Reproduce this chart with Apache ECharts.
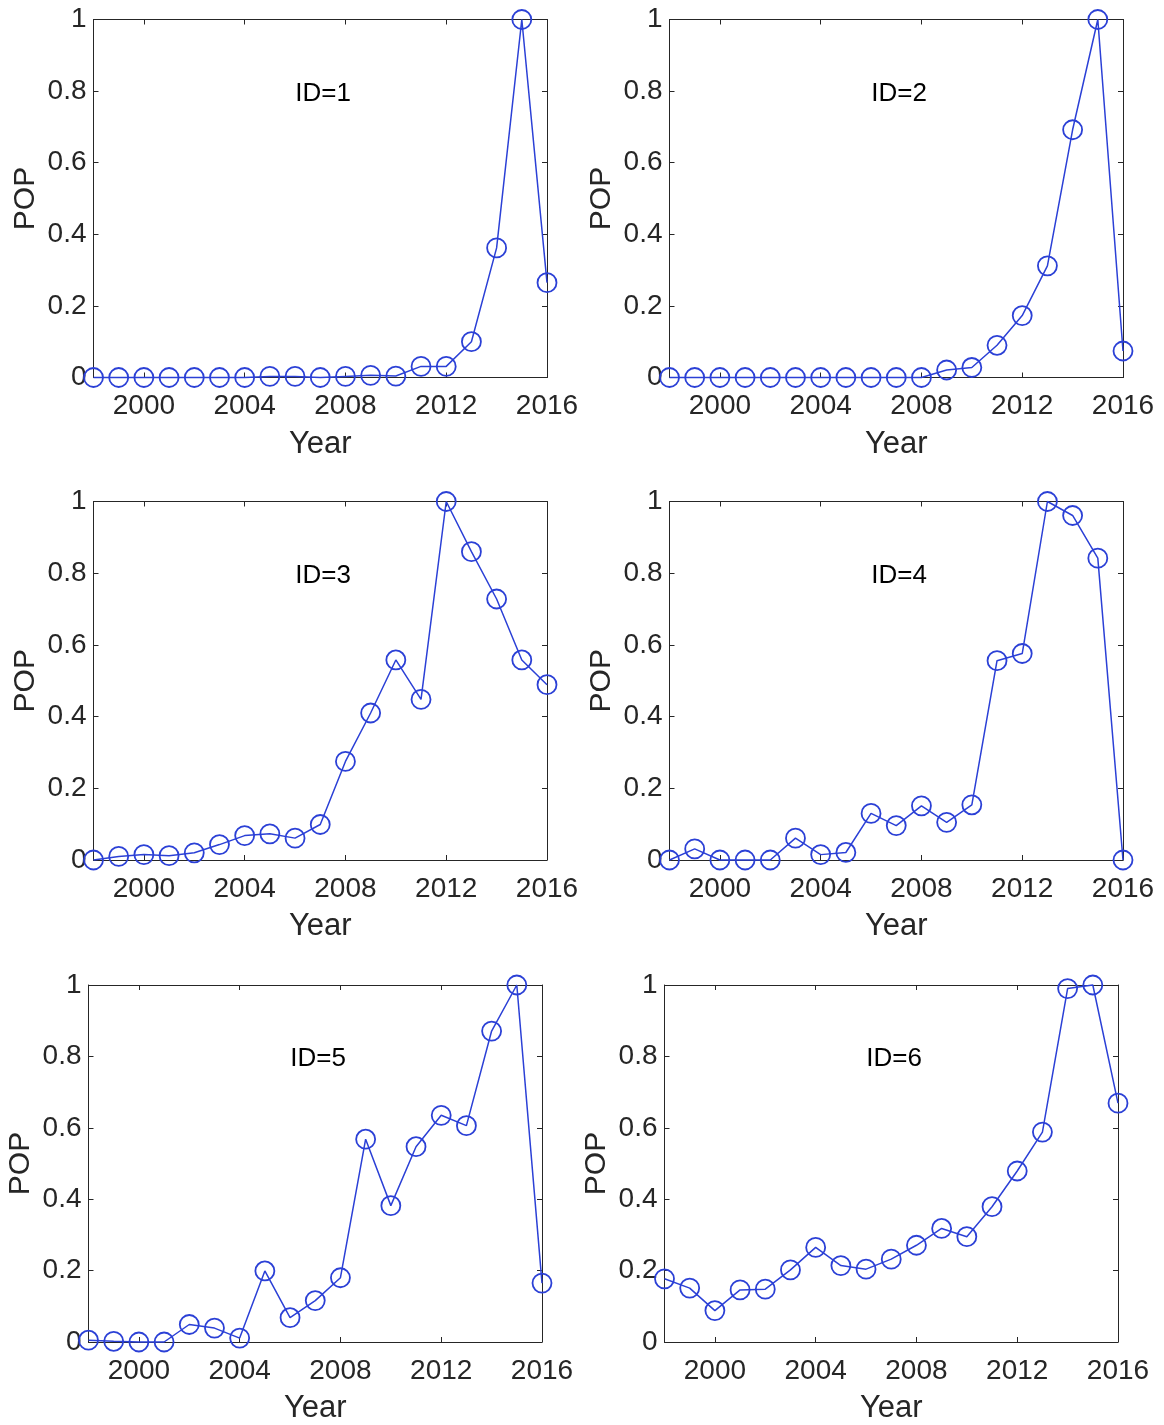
<!DOCTYPE html>
<html>
<head>
<meta charset="utf-8">
<script src="https://cdn.jsdelivr.net/npm/echarts@6/dist/echarts.min.js"></script>
<style>
html,body{margin:0;padding:0;background:#fff;}
#c{width:1164px;height:1425px;}
</style>
</head>
<body>
<div id="c"></div>
<script>
const years = [1998,1999,2000,2001,2002,2003,2004,2005,2006,2007,2008,2009,2010,2011,2012,2013,2014,2015,2016];
const xTicks = [2000,2004,2008,2012,2016];
const yTicks = [0,0.2,0.4,0.6,0.8,1];
const panelTitles = ['ID=1','ID=2','ID=3','ID=4','ID=5','ID=6'];
const pop1 = [0,0,0,0,0,0,0,0.003,0.003,0,0.003,0.006,0.004,0.031,0.031,0.10,0.362,1,0.265];
const pop2 = [0,0,0,0,0,0,0,0,0,0,0,0.021,0.028,0.09,0.173,0.312,0.692,1,0.074];
const pop3 = [0,0.010,0.015,0.012,0.020,0.043,0.068,0.073,0.061,0.099,0.275,0.41,0.558,0.448,1,0.86,0.728,0.558,0.489];
const pop4 = [0,0.031,0,0,0,0.061,0.015,0.021,0.130,0.096,0.151,0.105,0.154,0.556,0.576,1,0.961,0.842,0];
const pop5 = [0.005,0.002,0,0,0.049,0.039,0.011,0.199,0.068,0.116,0.18,0.568,0.382,0.547,0.635,0.606,0.871,1,0.165];
const pop6 = [0.177,0.151,0.088,0.146,0.148,0.202,0.265,0.214,0.204,0.232,0.271,0.318,0.295,0.379,0.479,0.588,0.99,1,0.669];
const series = [pop1,pop2,pop3,pop4,pop5,pop6];

const FONT = '"Liberation Sans", Arial, Helvetica, sans-serif';
const INK = '#262626';
const BLUE = '#2b40d6';
const boxes = [
  {left:93.5, top:19.5, width:453.5, height:358},
  {left:669.5, top:19.5, width:453.5, height:358},
  {left:93.5, top:501.5, width:453.5, height:358.5},
  {left:669.5, top:501.5, width:453.5, height:358.5},
  {left:88.5, top:985, width:453.5, height:358},
  {left:664.5, top:985, width:453.5, height:358}
];

const grid=[], xAxis=[], yAxis=[], seriesOpt=[], graphic=[];
boxes.forEach((b,i)=>{
  grid.push({left:b.left, top:b.top, width:b.width, height:b.height, containLabel:false});
  const xBase = {type:'value', gridIndex:i, min:1998, max:2016,
    axisLine:{show:true, onZero:false, lineStyle:{color:INK, width:1}},
    axisTick:{show:true, inside:true, length:5, customValues:xTicks, lineStyle:{color:INK}},
    splitLine:{show:false}};
  xAxis.push(Object.assign({}, xBase, {position:'bottom',
    axisLabel:{show:true, customValues:xTicks, formatter:v=>String(v), color:INK, fontSize:28, fontFamily:FONT, margin:15},
    name:'Year', nameLocation:'middle', nameGap:51,
    nameTextStyle:{color:INK, fontSize:31, fontFamily:FONT}}));
  xAxis.push(Object.assign({}, xBase, {position:'top', axisLabel:{show:false}}));
  const yBase = {type:'value', gridIndex:i, min:0, max:1, interval:0.2,
    axisLine:{show:true, onZero:false, lineStyle:{color:INK, width:1}},
    axisTick:{show:true, inside:true, length:5, lineStyle:{color:INK}},
    splitLine:{show:false}};
  yAxis.push(Object.assign({}, yBase, {position:'left',
    axisLabel:{show:true, color:INK, fontSize:28, fontFamily:FONT, margin:7},
    name:'POP', nameLocation:'middle', nameGap:53,
    nameTextStyle:{color:INK, fontSize:30, fontFamily:FONT}}));
  yAxis.push(Object.assign({}, yBase, {position:'right', axisLabel:{show:false}}));
  seriesOpt.push({type:'line', xAxisIndex:2*i, yAxisIndex:2*i,
    data: years.map((y,k)=>[y, series[i][k]]),
    symbol:'circle', symbolSize:19, showAllSymbol:true, clip:false,
    lineStyle:{color:BLUE, width:1.5},
    itemStyle:{color:'rgba(0,0,0,0)', borderColor:BLUE, borderWidth:1.8},
    emphasis:{disabled:true}, animation:false});
  graphic.push({type:'text', left:b.left+b.width/2 - 25, top:b.top+61,
    style:{text:panelTitles[i], fill:'#000', font:'26px '+FONT}});
});

const chart = echarts.init(document.getElementById('c'));
chart.setOption({backgroundColor:'#fff', animation:false, grid, xAxis, yAxis, series:seriesOpt, graphic});
</script>
</body>
</html>
